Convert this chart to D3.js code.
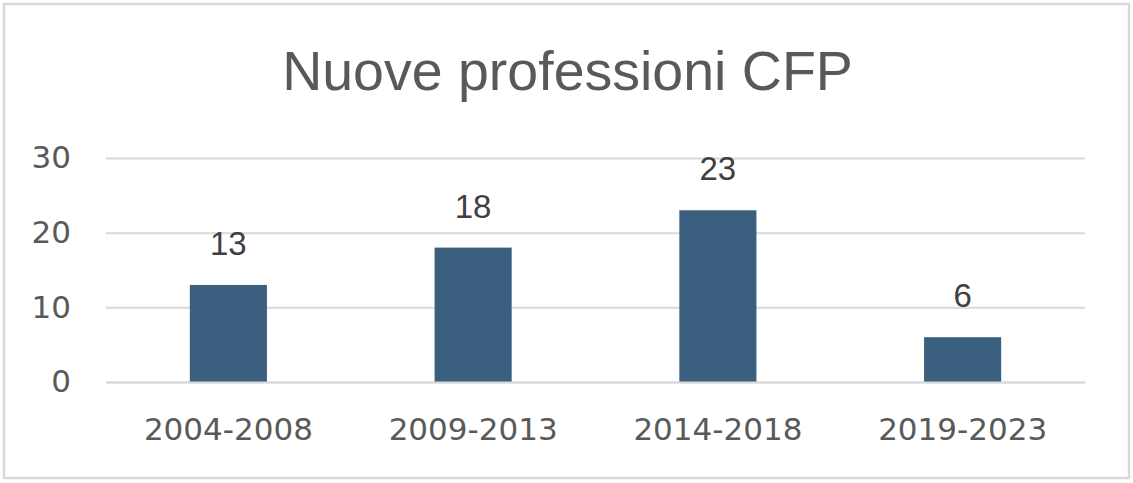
<!DOCTYPE html>
<html><head><meta charset="utf-8">
<script src="https://cdn.jsdelivr.net/npm/d3@7"></script>
<style>body{margin:0;background:#fff}svg{display:block}</style>
</head><body>
<svg id="c" width="1133" height="483"></svg>
<script>
const categories = ["2004-2008","2009-2013","2014-2018","2019-2023"];
const values = [13,18,23,6];
const yTicks = [0,10,20,30];
const title = "Nuove professioni CFP";

const W=1133,H=483;
const svg=d3.select("#c");
const font="'Liberation Sans', Arial, sans-serif";
const font2="'DejaVu Sans', sans-serif";
svg.append("rect").attr("x",4).attr("y",4).attr("width",1125).attr("height",474)
  .attr("fill","#fff").attr("stroke","#d9d9d9").attr("stroke-width",2.5);

const m={l:106,r:1085,t:158,b:382};
const x=d3.scaleBand().domain(categories).range([m.l,m.r]).paddingInner(0.685).paddingOuter(0.3425);
const y=d3.scaleLinear().domain([0,30]).range([m.b,m.t]);

svg.append("text").attr("x",W/2+1).attr("y",90).attr("text-anchor","middle")
  .attr("font-family",font).attr("font-size",55.5).attr("fill","#595959").text(title);

const ya=svg.append("g").attr("transform",`translate(${m.l},0)`)
  .call(d3.axisLeft(y).tickValues(yTicks).tickSize(-(m.r-m.l)).tickPadding(35));
ya.select(".domain").remove();
ya.selectAll("line").attr("stroke","#d9d9d9").attr("stroke-width",2);
ya.selectAll("text").attr("font-family",font2).attr("font-size",31).attr("fill","#595959");

svg.append("g").selectAll("rect").data(values).join("rect")
  .attr("x",(d,i)=>x(categories[i])).attr("width",x.bandwidth())
  .attr("y",d=>y(d)).attr("height",d=>y(0)-y(d)).attr("fill","#3b5f7e");

svg.append("g").selectAll("text").data(values).join("text")
  .attr("x",(d,i)=>x(categories[i])+x.bandwidth()/2).attr("y",d=>y(d)-30)
  .attr("text-anchor","middle").attr("font-family",font).attr("font-size",33)
  .attr("fill","#404040").text(d=>d);

const xa=svg.append("g").attr("transform",`translate(0,${m.b})`)
  .call(d3.axisBottom(x).tickSize(0).tickPadding(36));
xa.select(".domain").attr("stroke","#d9d9d9").attr("stroke-width",2);
xa.selectAll("text").attr("font-family",font2).attr("font-size",31).attr("fill","#595959");
</script>
</body></html>
